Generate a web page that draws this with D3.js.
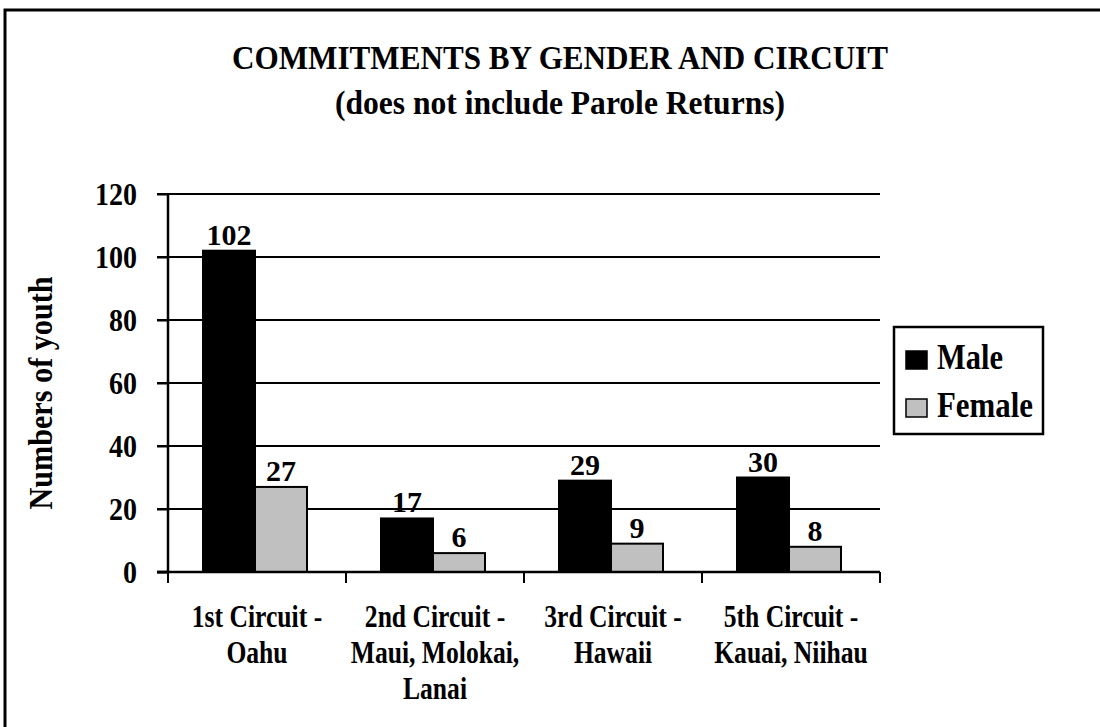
<!DOCTYPE html>
<html><head><meta charset="utf-8">
<script src="https://cdn.jsdelivr.net/npm/d3@7"></script>
<style>body{margin:0;background:#fff}svg{display:block}text{font-family:"Liberation Serif","Times New Roman",serif;font-weight:bold;fill:#000}</style>
</head><body>
<script>
const categories = [["1st Circuit -","Oahu"],["2nd Circuit -","Maui, Molokai,","Lanai"],["3rd Circuit -","Hawaii"],["5th Circuit -","Kauai, Niihau"]];
const seriesNames = ["Male","Female"];
const maleValues = [102,17,29,30];
const femaleValues = [27,6,9,8];
const yTicks = [0,20,40,60,80,100,120];
const colors = ["#000000","#c0c0c0"];
const titleLines = ["COMMITMENTS BY GENDER AND CIRCUIT","(does not include Parole Returns)"];
const yTitle = "Numbers of youth";

(function(){
const W=1100,H=727;
const svg=d3.select("body").append("svg").attr("width",W).attr("height",H);
// condense text horizontally by factor k
function condense(sel,k){
  sel.each(function(){
    const w=this.getComputedTextLength();
    d3.select(this).attr("textLength",w*k).attr("lengthAdjust","spacingAndGlyphs");
  });
}
svg.append("rect").attr("x",5).attr("y",10).attr("width",1115).attr("height",730).attr("fill","#fff").attr("stroke","#000").attr("stroke-width",3);

const pLeft=168,pRight=880,pTop=194,pBottom=572;
const x=d3.scaleBand().domain(d3.range(categories.length)).range([pLeft,pRight]).padding(0);
const xs=d3.scaleBand().domain(seriesNames).range([0,x.bandwidth()]).paddingInner(0).paddingOuter(0.7115).align(0.473);
const y=d3.scaleLinear().domain([0,120]).range([pBottom,pTop]);

svg.append("g").selectAll("line").data(yTicks.filter(d=>d>0)).join("line")
  .attr("x1",pLeft-11).attr("x2",pRight).attr("y1",d=>y(d)).attr("y2",d=>y(d))
  .attr("stroke","#000").attr("stroke-width",2);

const ya=svg.append("g").attr("transform",`translate(${pLeft},0)`).call(d3.axisLeft(y).tickValues(yTicks).tickSize(11).tickPadding(20));
ya.select(".domain").attr("stroke","#000").attr("stroke-width",2.5).attr("d",`M-11,${pBottom}H0V${pTop}`);
ya.selectAll(".tick line").attr("stroke","#000").attr("stroke-width",2);
const tt=ya.selectAll(".tick text").attr("font-size",32).attr("font-family","Liberation Serif").attr("font-weight","bold").attr("dy","0.34em");
condense(tt,0.875);

const data=categories.map((c,i)=>({i,vals:[maleValues[i],femaleValues[i]]}));
const g=svg.append("g").selectAll("g").data(data).join("g").attr("transform",d=>`translate(${x(d.i)},0)`);
g.selectAll("rect").data(d=>d.vals.map((v,k)=>({v,k}))).join("rect")
  .attr("x",d=>xs(seriesNames[d.k])).attr("width",xs.bandwidth())
  .attr("y",d=>y(d.v)).attr("height",d=>y(0)-y(d.v))
  .attr("fill",d=>colors[d.k]).attr("stroke","#000").attr("stroke-width",2);
g.selectAll("text").data(d=>d.vals.map((v,k)=>({v,k}))).join("text")
  .attr("x",d=>xs(seriesNames[d.k])+xs.bandwidth()/2).attr("y",d=>y(d.v)-6)
  .attr("text-anchor","middle").attr("font-size",30).text(d=>d.v);

svg.append("line").attr("x1",pLeft-11).attr("x2",pRight).attr("y1",pBottom).attr("y2",pBottom).attr("stroke","#000").attr("stroke-width",2.5);
const bounds=d3.range(categories.length+1).map(i=>pLeft+i*x.step());
svg.append("g").selectAll("line").data(bounds).join("line")
  .attr("x1",d=>d).attr("x2",d=>d).attr("y1",pBottom).attr("y2",pBottom+11).attr("stroke","#000").attr("stroke-width",2);
const lines=[];
categories.forEach((c,i)=>c.forEach((t,j)=>lines.push({i,j,t})));
const xl=svg.append("g").selectAll("text").data(lines).join("text")
  .attr("x",d=>x(d.i)+x.bandwidth()/2).attr("y",d=>627+d.j*36).attr("text-anchor","middle").attr("font-size",32).text(d=>d.t);
condense(xl,0.8);

const tl=svg.append("g").selectAll("text").data(titleLines).join("text")
  .attr("x",560).attr("y",(d,i)=>69+i*45).attr("text-anchor","middle").attr("font-size",33).text(d=>d);
tl.attr("textLength",(d,i)=>[656,450][i]).attr("lengthAdjust","spacingAndGlyphs");

svg.append("text").attr("transform","translate(52,393) rotate(-90)").attr("text-anchor","middle").attr("font-size",34)
  .attr("textLength",233).attr("lengthAdjust","spacingAndGlyphs").text(yTitle);

const lg=svg.append("g");
lg.append("rect").attr("x",894).attr("y",327).attr("width",149).attr("height",107).attr("fill","#fff").attr("stroke","#000").attr("stroke-width",2.5);
const li=lg.selectAll("g").data(seriesNames).join("g").attr("transform",(d,i)=>`translate(906,${351+i*48})`);
li.append("rect").attr("width",21).attr("height",18).attr("fill",(d,i)=>colors[i]).attr("stroke","#000").attr("stroke-width",1.5);
li.append("text").attr("x",31).attr("y",18).attr("font-size",35).attr("textLength",(d,i)=>[66,96][i]).attr("lengthAdjust","spacingAndGlyphs").text(d=>d);
})();
</script>
</body></html>
